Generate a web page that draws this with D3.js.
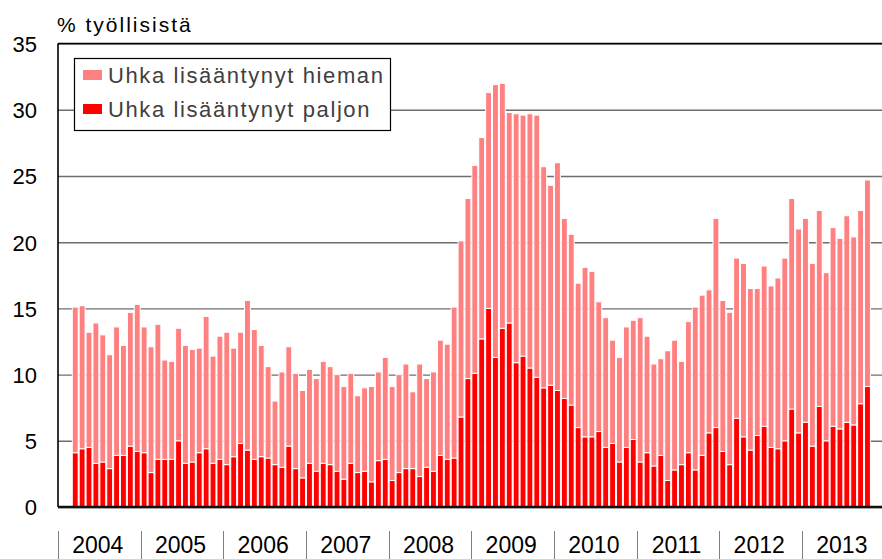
<!DOCTYPE html>
<html lang="fi">
<head>
    <meta charset="utf-8">
    <style>
        body { margin: 0; background: #fff; }
        #mainSVG { display: block; }
        text { font-family: "Liberation Sans", Arial, sans-serif; }
        .grid line { stroke: #6e6e6e; stroke-width: 1.4; }
        .grid text { font-size: 22px; fill: #000; }
        .legend text { font-size: 22px; fill: #404040; letter-spacing: 1.6px; }
    </style>
</head>
<body>
<svg id="mainSVG" width="882" height="559"></svg>
<script src="https://cdn.jsdelivr.net/npm/d3@7"></script>
<script>

    // vuodet x-akselilla, data alkaa maaliskuusta 2004 (kuukausittain)
    var years = [2004, 2005, 2006, 2007, 2008, 2009, 2010, 2011, 2012, 2013];
    var firstMonth = new Date(2004, 2, 1);
    var yTicks = [0, 5, 10, 15, 20, 25, 30, 35];
    var seriesNames = ["Uhka lisääntynyt hieman", "Uhka lisääntynyt paljon"];

    // Uhka lisääntynyt hieman (%)
    var hieman = [
        11.0, 10.8, 8.7, 10.6, 9.6, 8.6, 9.7, 8.3, 10.1, 11.1,
        9.5, 9.5, 10.2, 7.5, 7.4, 8.5, 8.9, 8.5, 7.9, 10.0, 8.1, 9.3,
        10.0, 8.2, 8.4, 11.3, 9.8, 8.4, 6.9, 4.8, 7.2, 7.5, 7.2, 6.6,
        7.1, 7.0, 7.7, 7.4, 7.3, 7.0, 6.8, 5.8, 6.3, 7.2, 6.7, 7.7,
        7.1, 7.4, 7.9, 5.8, 8.5, 6.7, 7.5, 8.7, 8.7, 11.4, 13.3, 13.6,
        15.7, 15.2, 16.3, 20.6, 18.5, 15.9, 18.8, 18.2, 19.2, 19.8, 16.7, 15.1,
        17.2, 13.6, 12.9, 10.9, 12.8, 12.5, 9.8, 9.8, 7.8, 7.9, 9.1, 9.0,
        10.9, 8.8, 7.7, 7.3, 9.8, 9.8, 7.8, 9.9, 12.3, 12.1, 10.8, 15.8,
        11.4, 11.5, 12.1, 13.1, 12.2, 11.1, 12.1, 12.2, 12.9, 13.8, 15.9, 15.4,
        15.4, 13.8, 14.8, 12.7, 15.0, 14.4, 15.6, 14.2, 14.6, 15.6
    ];

    // Uhka lisääntynyt paljon (%)
    var paljon = [
        4.1, 4.4, 4.5, 3.3, 3.4, 2.9, 3.9, 3.9, 4.6, 4.2,
        4.1, 2.6, 3.6, 3.6, 3.6, 5.0, 3.3, 3.4, 4.1, 4.4, 3.3, 3.6,
        3.2, 3.8, 4.8, 4.3, 3.6, 3.8, 3.7, 3.2, 3.0, 4.6, 2.9, 2.2,
        3.3, 2.7, 3.3, 3.2, 2.7, 2.1, 3.3, 2.6, 2.7, 1.9, 3.5, 3.6,
        2.0, 2.6, 2.9, 2.9, 2.3, 3.0, 2.7, 3.9, 3.6, 3.7, 6.8, 9.7,
        10.1, 12.7, 15.0, 11.3, 13.5, 13.9, 10.9, 11.4, 10.5, 9.8, 9.0, 9.2,
        8.8, 8.2, 7.7, 6.0, 5.3, 5.3, 5.7, 4.5, 4.8, 3.4, 4.5, 5.1,
        3.4, 4.1, 3.1, 3.9, 2.0, 2.8, 3.2, 4.1, 2.8, 3.9, 5.6, 6.0,
        4.2, 3.2, 6.7, 5.3, 4.3, 5.4, 6.1, 4.5, 4.4, 5.0, 7.4, 5.6,
        6.4, 4.6, 7.6, 5.0, 6.1, 5.9, 6.4, 6.2, 7.8, 9.1
    ];

    var fmt = d3.timeFormat("%Y-%m");
    var monthKeys = d3.timeMonths(new Date(years[0], 0, 1), new Date(years[years.length - 1] + 1, 0, 1)).map(fmt);

    var rows = hieman.map(function (d, i) {
        return { month: fmt(d3.timeMonth.offset(firstMonth, i)), paljon: paljon[i], hieman: d };
    });

    var svg = d3.select("#mainSVG"),
        width = +svg.attr("width"),
        height = +svg.attr("height");

    var plotLeft = 58, plotRight = 884.7, plotTop = 43.6, plotBottom = 507;

    var x = d3.scaleBand()
        .domain(monthKeys)
        .range([plotLeft, plotRight])
        .padding(0);

    var y = d3.scaleLinear()
        .domain([0, 35])
        .range([plotBottom, plotTop]);

    // gridlines + y labels
    svg.append("g")
        .attr("class", "grid")
        .attr("transform", "translate(" + plotLeft + ",0)")
        .call(d3.axisLeft(y)
            .tickValues(yTicks)
            .tickSize(-(width - plotLeft))
            .tickPadding(21)
            .tickFormat(function (d) { return d; }))
        .call(function (g) { g.select(".domain").remove(); })
        .selectAll("text")
        .attr("dy", "0.36em");

    // bars
    var stack = d3.stack().keys(["paljon", "hieman"]);
    var colors = { paljon: "#ff0000", hieman: "#ff8080" };

    svg.append("g")
        .selectAll("g")
        .data(stack(rows))
        .enter().append("g")
        .attr("fill", function (d) { return colors[d.key]; })
        .selectAll("rect")
        .data(function (d) { return d; })
        .enter().append("rect")
        .attr("x", function (d) { return x(d.data.month) + 0.5; })
        .attr("width", x.bandwidth() - 1)
        .attr("y", function (d) { return y(d[1]); })
        .attr("height", function (d) { return y(d[0]) - y(d[1]); })
        .attr("stroke", "#fff")
        .attr("stroke-width", 1);

    // frame: top, left, bottom
    svg.append("line")
        .attr("x1", plotLeft).attr("x2", width)
        .attr("y1", y(35)).attr("y2", y(35))
        .attr("stroke", "#000").attr("stroke-width", 1.5);
    svg.append("line")
        .attr("x1", plotLeft).attr("x2", plotLeft)
        .attr("y1", y(35)).attr("y2", y(0))
        .attr("stroke", "#000").attr("stroke-width", 1.6);
    svg.append("line")
        .attr("x1", plotLeft).attr("x2", width)
        .attr("y1", y(0)).attr("y2", y(0))
        .attr("stroke", "#111").attr("stroke-width", 2.4);

    // year separators and labels
    var xg = svg.append("g").attr("class", "years");
    xg.selectAll("line")
        .data(years)
        .enter().append("line")
        .attr("x1", function (d) { return Math.round(x(d + "-01")) + 0.5; })
        .attr("x2", function (d) { return Math.round(x(d + "-01")) + 0.5; })
        .attr("y1", 531)
        .attr("y2", height)
        .attr("stroke", "#7f7f7f")
        .attr("stroke-width", 1);
    xg.selectAll("text")
        .data(years)
        .enter().append("text")
        .attr("x", function (d) { return x(d + "-01") + 6 * x.bandwidth() - 1.5; })
        .attr("y", 553)
        .attr("text-anchor", "middle")
        .attr("font-size", "23px")
        .attr("fill", "#000")
        .text(function (d) { return d; });

    // title
    svg.append("text")
        .attr("x", 57)
        .attr("y", 32)
        .attr("font-size", "21px")
        .attr("letter-spacing", "2px")
        .attr("fill", "#000")
        .text("% työllisistä");

    // legend
    var lg = svg.append("g").attr("class", "legend");
    lg.append("rect")
        .attr("x", 74.5).attr("y", 58.5)
        .attr("width", 316).attr("height", 72)
        .attr("fill", "#fff")
        .attr("stroke", "#000")
        .attr("stroke-width", 1.2);

    var legendKeys = ["hieman", "paljon"];
    var item = lg.selectAll("g")
        .data(legendKeys)
        .enter().append("g")
        .attr("transform", function (d, i) { return "translate(83," + (75 + i * 34) + ")"; });
    item.append("rect")
        .attr("x", 0).attr("y", -5)
        .attr("width", 19).attr("height", 10)
        .attr("fill", function (d) { return colors[d]; });
    item.append("text")
        .attr("x", 25)
        .attr("y", 0)
        .attr("dy", "0.36em")
        .text(function (d, i) { return seriesNames[i]; });

</script>
</body>
</html>
